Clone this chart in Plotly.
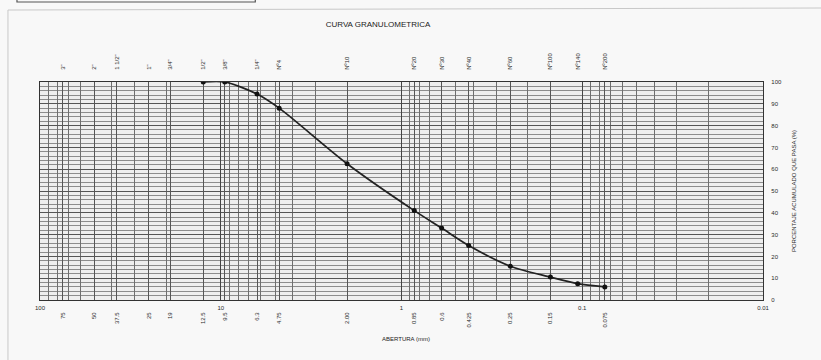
import plotly.graph_objects as go

# ---- data ----
sieve_mm = [12.5, 9.5, 6.3, 4.75, 2.0, 0.85, 0.6, 0.425, 0.25, 0.15, 0.106, 0.075]
passing_pct = [100, 100, 94.5, 88, 62.5, 41, 33, 25, 15.5, 10.5, 7.5, 6]

top_sieve_mm = [75, 50, 37.5, 25, 19, 12.5, 9.5, 6.3, 4.75, 2.0, 0.85, 0.6, 0.425, 0.25, 0.15, 0.106, 0.075]
top_sieve_names = ['3"', '2"', '1 1/2"', '1"', '3/4"', '1/2"', '3/8"', '1/4"', 'Nº4', 'Nº10',
                   'Nº20', 'Nº30', 'Nº40', 'Nº60', 'Nº100', 'Nº140', 'Nº200']

bottom_mm = [75, 50, 37.5, 25, 19, 12.5, 9.5, 6.3, 4.75, 2.0, 0.85, 0.6, 0.425, 0.25, 0.15, 0.075]
bottom_labels = ['75', '50', '37.5', '25', '19', '12.5', '9.5', '6.3', '4.75', '2.00',
                 '0.85', '0.6', '0.425', '0.25', '0.15', '0.075']

decade_vals = [100, 10, 1, 0.1, 0.01]
decade_labels = ['100', '10', '1', '0.1', '0.01']

y_ticks = list(range(0, 101, 10))

# log paper grid values
grid_vals = [m * 10 ** e for e in (-2, -1, 0, 1) for m in range(1, 10)] + [100]

FONT = "Liberation Sans"
XR = [2, -2]
TXT = "#2a2a2a"

fig = go.Figure()
# helper (invisible) traces so the overlaying label axes get drawn
for ax in ("x2", "x3", "x4"):
    fig.add_trace(go.Scatter(x=sieve_mm, y=passing_pct, xaxis=ax, yaxis="y",
                             mode="markers", marker=dict(opacity=0),
                             hoverinfo="skip", showlegend=False))
fig.add_trace(go.Scatter(
    x=sieve_mm, y=passing_pct, mode="lines+markers",
    line=dict(color="#222", width=1.7, shape="spline", smoothing=0.8),
    marker=dict(color="#111", size=5),
    showlegend=False, hoverinfo="x+y",
))

common_x = dict(type="log", range=XR, fixedrange=True, zeroline=False)

fig.update_layout(
    width=821, height=360,
    margin=dict(l=40, r=58, t=82, b=60),
    paper_bgcolor="#f8f8f8",
    plot_bgcolor="#eeeeee",
    font=dict(family=FONT, color=TXT),
    showlegend=False,
    xaxis=dict(**common_x, tickvals=grid_vals, showticklabels=False, ticks="",
               showgrid=True, gridcolor="#6e6e6e", gridwidth=0.7,
               showline=True, linecolor="#333", linewidth=1.3, mirror=True),
    xaxis2=dict(**common_x, overlaying="x", anchor="y", side="bottom",
                tickvals=bottom_mm, ticktext=bottom_labels, tickangle=-90,
                tickfont=dict(size=6, color=TXT), showgrid=True,
                gridcolor="#555", gridwidth=0.8,
                ticks="outside", ticklen=9, tickcolor="rgba(0,0,0,0)"),
    xaxis3=dict(**common_x, overlaying="x", anchor="y", side="bottom",
                tickvals=decade_vals, ticktext=decade_labels, tickangle=0,
                tickfont=dict(size=6, color=TXT), showgrid=True,
                gridcolor="#444", gridwidth=1.0,
                ticks="outside", ticklen=2, tickcolor="rgba(0,0,0,0)"),
    xaxis4=dict(**common_x, overlaying="x", anchor="y", side="top",
                tickvals=top_sieve_mm, ticktext=top_sieve_names, tickangle=-90,
                tickfont=dict(size=6, color=TXT), showgrid=False,
                ticks="outside", ticklen=10, tickcolor="rgba(0,0,0,0)"),
    yaxis=dict(range=[0, 100], side="right", tickvals=y_ticks, fixedrange=True,
               tickfont=dict(size=6, color=TXT),
               ticks="outside", ticklen=6, tickcolor="rgba(0,0,0,0)",
               showgrid=True, gridcolor="#555", gridwidth=0.9,
               minor=dict(dtick=2, showgrid=True, gridcolor="#8c8c8c", gridwidth=0.6),
               zeroline=False, showline=True, linecolor="#333", linewidth=1.3, mirror=True,
               title=dict(text="PORCENTAJE ACUMULADO QUE PASA (%)",
                          font=dict(size=6, color=TXT), standoff=10)),
    title=dict(text="CURVA GRANULOMETRICA", x=378 / 821, xanchor="center",
               y=1 - 24 / 360, yanchor="middle", xref="container", yref="container",
               font=dict(size=8, color="#222")),
    annotations=[
        dict(text="ABERTURA (mm)", xref="paper", yref="paper",
             x=(405 - 40) / 722, y=-(339 - 300) / 218, showarrow=False,
             font=dict(size=6, color="#222"), xanchor="center", yanchor="middle"),
    ],
    shapes=[
        # outer frame of the scanned sheet
        dict(type="line", xref="paper", yref="paper",
             x0=-32 / 722, x1=-32 / 722, y0=-0.3, y1=(300 - 10) / 218,
             line=dict(color="#c8c8c8", width=1)),
        dict(type="line", xref="paper", yref="paper",
             x0=-32 / 722, x1=1.09, y0=(300 - 10) / 218, y1=(300 - 8) / 218,
             line=dict(color="#c8c8c8", width=1)),
        dict(type="rect", xref="paper", yref="paper",
             x0=-23 / 722, x1=215 / 722, y0=(300 - 2) / 218, y1=(300 + 30) / 218,
             line=dict(color="#555", width=1.2), fillcolor="rgba(0,0,0,0)"),
    ],
)

fig.write_html("out.html")
